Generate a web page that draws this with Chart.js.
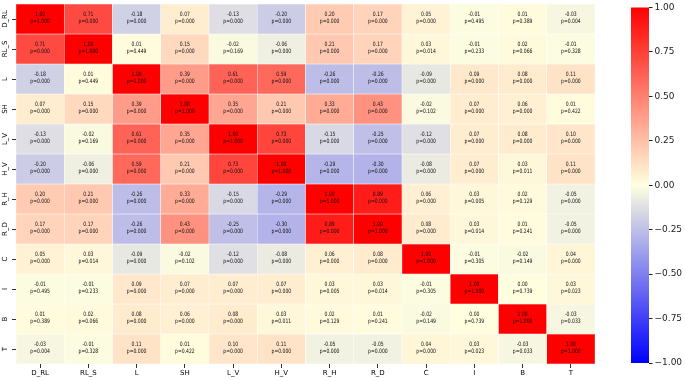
<!DOCTYPE html>
<html>
<head>
<meta charset="utf-8">
<script src="https://cdn.jsdelivr.net/npm/chart.js@4/dist/chart.umd.min.js"></script>
<style>
  html, body { margin: 0; padding: 0; background: #fff; }
  #wrap { position: relative; width: 685px; height: 380px; }
  #heat { position: absolute; left: 0; top: 0; }
  #cbar { position: absolute; left: 620px; top: 0; }
</style>
</head>
<body>
<div id="wrap">
  <canvas id="heat" width="605" height="380"></canvas>
  <canvas id="cbar" width="65" height="380"></canvas>
</div>
<script>
const vars = ['D_RL', 'RL_S', 'L', 'SH', 'L_V', 'H_V', 'R_H', 'R_D', 'C', 'I', 'B', 'T'];

// correlation coefficients, row by row
const corr = [
  [1.00, 0.71, -0.18, 0.07, -0.13, -0.20, 0.20, 0.17, 0.05, -0.01, 0.01, -0.03],
  [0.71, 1.00, 0.01, 0.15, -0.02, -0.06, 0.21, 0.17, 0.03, -0.01, 0.02, -0.01],
  [-0.18, 0.01, 1.00, 0.39, 0.61, 0.59, -0.26, -0.26, -0.09, 0.09, 0.08, 0.11],
  [0.07, 0.15, 0.39, 1.00, 0.35, 0.21, 0.33, 0.43, -0.02, 0.07, 0.06, 0.01],
  [-0.13, -0.02, 0.61, 0.35, 1.00, 0.73, -0.15, -0.25, -0.12, 0.07, 0.08, 0.10],
  [-0.20, -0.06, 0.59, 0.21, 0.73, 1.00, -0.29, -0.30, -0.08, 0.07, 0.03, 0.11],
  [0.20, 0.21, -0.26, 0.33, -0.15, -0.29, 1.00, 0.89, 0.06, 0.03, 0.02, -0.05],
  [0.17, 0.17, -0.26, 0.43, -0.25, -0.30, 0.89, 1.00, 0.08, 0.03, 0.01, -0.05],
  [0.05, 0.03, -0.09, -0.02, -0.12, -0.08, 0.06, 0.08, 1.00, -0.01, -0.02, 0.04],
  [-0.01, -0.01, 0.09, 0.07, 0.07, 0.07, 0.03, 0.03, -0.01, 1.00, 0.00, 0.03],
  [0.01, 0.02, 0.08, 0.06, 0.08, 0.03, 0.02, 0.01, -0.02, 0.00, 1.00, -0.03],
  [-0.03, -0.01, 0.11, 0.01, 0.10, 0.11, -0.05, -0.05, 0.04, 0.03, -0.03, 1.00]
];

// p-values, same layout
const pvals = [
  [1.000, 0.000, 0.000, 0.000, 0.000, 0.000, 0.000, 0.000, 0.000, 0.495, 0.389, 0.004],
  [0.000, 1.000, 0.449, 0.000, 0.169, 0.000, 0.000, 0.000, 0.014, 0.233, 0.066, 0.328],
  [0.000, 0.449, 1.000, 0.000, 0.000, 0.000, 0.000, 0.000, 0.000, 0.000, 0.000, 0.000],
  [0.000, 0.000, 0.000, 1.000, 0.000, 0.000, 0.000, 0.000, 0.102, 0.000, 0.000, 0.422],
  [0.000, 0.169, 0.000, 0.000, 1.000, 0.000, 0.000, 0.000, 0.000, 0.000, 0.000, 0.000],
  [0.000, 0.000, 0.000, 0.000, 0.000, 1.000, 0.000, 0.000, 0.000, 0.000, 0.011, 0.000],
  [0.000, 0.000, 0.000, 0.000, 0.000, 0.000, 1.000, 0.000, 0.000, 0.005, 0.129, 0.000],
  [0.000, 0.000, 0.000, 0.000, 0.000, 0.000, 0.000, 1.000, 0.000, 0.014, 0.241, 0.000],
  [0.000, 0.014, 0.000, 0.102, 0.000, 0.000, 0.000, 0.000, 1.000, 0.305, 0.149, 0.000],
  [0.495, 0.233, 0.000, 0.000, 0.000, 0.000, 0.005, 0.014, 0.305, 1.000, 0.739, 0.023],
  [0.389, 0.066, 0.000, 0.000, 0.000, 0.011, 0.129, 0.241, 0.149, 0.739, 1.000, 0.033],
  [0.004, 0.328, 0.000, 0.422, 0.000, 0.000, 0.000, 0.000, 0.000, 0.023, 0.033, 1.000]
];

const cbarRange = [-1, 1];
const cbarStep = 0.25;

// blue -> light yellow -> red
const cellColor = v => {
  const lo = [0, 0, 255], mid = [255, 255, 224], hi = [255, 0, 0];
  const t = Math.min(1, Math.abs(v));
  const end = v < 0 ? lo : hi;
  const c = mid.map((m, i) => Math.round(m + (end[i] - m) * t));
  return `rgb(${c.join(',')})`;
};

const FONT = '"DejaVu Sans", sans-serif';

// annotation text is narrow in the reference, squeeze it a bit
function squeezed(c, txt, x, y) {
  c.save();
  c.translate(x, y);
  c.scale(0.76, 1);
  c.fillText(txt, 0, 0);
  c.restore();
}

const cellText = {
  id: 'cellText',
  afterDatasetsDraw(chart) {
    const c = chart.ctx;
    c.save();
    c.font = `6px ${FONT}`;
    c.fillStyle = '#111';
    c.textAlign = 'center';
    c.textBaseline = 'middle';
    chart.data.datasets.forEach((ds, r) => {
      chart.getDatasetMeta(r).data.forEach((bar, j) => {
        const p = bar.getProps(['x', 'y', 'base'], true);
        const cy = (p.y + p.base) / 2;
        squeezed(c, corr[r][j].toFixed(2), p.x, cy - 4.5);
        squeezed(c, 'p=' + pvals[r][j].toFixed(3), p.x, cy + 2.5);
      });
    });
    c.restore();
  },
  afterDraw(chart) {
    // rotated row labels
    const c = chart.ctx;
    const s = chart.scales.y;
    c.save();
    c.font = `7px ${FONT}`;
    c.fillStyle = '#000';
    c.textAlign = 'center';
    c.textBaseline = 'middle';
    vars.forEach((name, i) => {
      c.save();
      c.translate(5.5, s.getPixelForValue(i + 0.5));
      c.rotate(-Math.PI / 2);
      c.fillText(name, 0, 0);
      c.restore();
    });
    c.restore();
  }
};

const datasets = vars.map((name, r) => ({
  label: name,
  data: vars.map(() => [r, r + 1]),
  backgroundColor: corr[r].map(cellColor),
  borderColor: '#ffffff',
  borderWidth: 0.5,
  borderSkipped: false,
  barPercentage: 1,
  categoryPercentage: 1,
  grouped: false
}));

new Chart(document.getElementById('heat').getContext('2d'), {
  type: 'bar',
  data: { labels: vars, datasets: datasets },
  options: {
    responsive: false,
    animation: false,
    layout: { padding: { left: 0, top: 4, right: 10, bottom: 0 } },
    plugins: { legend: { display: false }, tooltip: { enabled: false } },
    scales: {
      x: {
        type: 'category',
        offset: true,
        border: { display: false },
        grid: { drawOnChartArea: false, offset: false, tickLength: 4, tickColor: '#333' },
        ticks: { color: '#000', font: { size: 7, family: FONT }, padding: 1, maxRotation: 0, autoSkip: false },
        afterFit: s => { s.height = 16; }
      },
      y: {
        type: 'linear',
        min: 0,
        max: 12,
        reverse: true,
        border: { display: false },
        grid: { drawOnChartArea: false, tickLength: 4, tickColor: '#333' },
        ticks: { display: false },
        afterBuildTicks: s => { s.ticks = vars.map((_, i) => ({ value: i + 0.5 })); },
        afterFit: s => { s.width = 16; }
      }
    }
  },
  plugins: [cellText]
});

const fmtTick = v => (v < 0 ? '\u2212' : '') + Math.abs(v).toFixed(2);

new Chart(document.getElementById('cbar').getContext('2d'), {
  type: 'bar',
  data: {
    labels: [''],
    datasets: [{
      data: [cbarRange],
      backgroundColor: ctx => {
        const a = ctx.chart.chartArea;
        if (!a) return 'rgba(0,0,0,0)';
        const g = ctx.chart.ctx.createLinearGradient(0, a.bottom, 0, a.top);
        g.addColorStop(0, cellColor(-1));
        g.addColorStop(0.25, cellColor(-0.5));
        g.addColorStop(0.5, cellColor(0));
        g.addColorStop(0.75, cellColor(0.5));
        g.addColorStop(1, cellColor(1));
        return g;
      },
      borderWidth: 0,
      barPercentage: 1,
      categoryPercentage: 1
    }]
  },
  options: {
    responsive: false,
    animation: false,
    layout: { padding: { left: 11, top: 4, right: 0, bottom: 17 } },
    plugins: { legend: { display: false }, tooltip: { enabled: false } },
    scales: {
      x: { display: false },
      y: {
        position: 'right',
        min: cbarRange[0],
        max: cbarRange[1],
        border: { display: false },
        grid: { drawOnChartArea: false, tickLength: 3.5, tickColor: '#222' },
        ticks: {
          stepSize: cbarStep,
          color: '#222',
          padding: 2,
          font: { size: 9, family: FONT },
          callback: v => fmtTick(v)
        },
        afterFit: s => { s.width = 36; }
      }
    }
  }
});
</script>
</body>
</html>
